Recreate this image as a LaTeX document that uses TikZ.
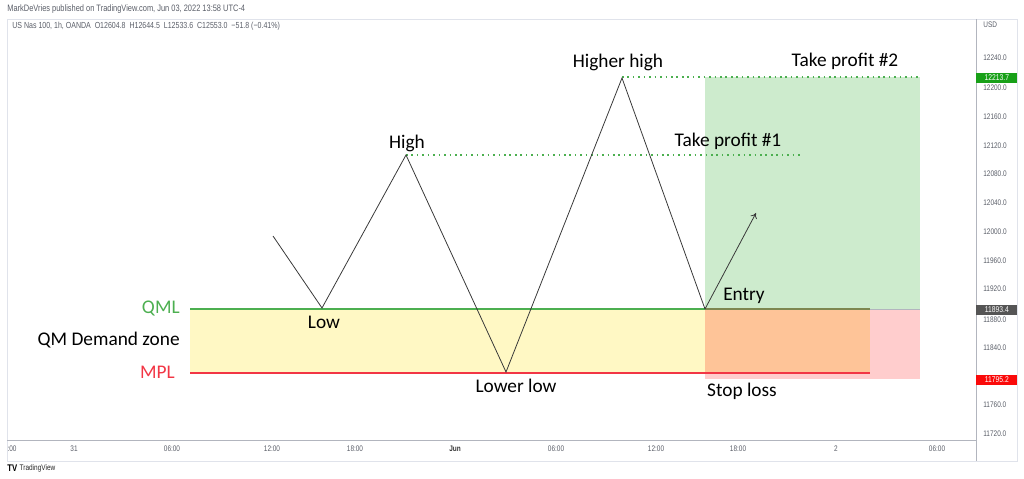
\documentclass[tikz,border=0pt]{standalone}
\usepackage{fontspec}
\setmainfont{Carlito}
\newfontfamily\tvfont[FakeStretch=0.8]{Liberation Sans}
\usetikzlibrary{arrows.meta}

\definecolor{qmlgreen}{RGB}{76,175,80}
\definecolor{mplred}{RGB}{242,54,69}
\definecolor{tpfill}{RGB}{205,235,205}
\definecolor{zonefill}{RGB}{255,248,196}
\definecolor{overlapfill}{RGB}{254,196,152}
\definecolor{slfill}{RGB}{255,205,205}
\definecolor{oliveline}{RGB}{125,135,80}
\definecolor{framegray}{RGB}{224,227,235}
\definecolor{axisgray}{RGB}{178,181,190}
\definecolor{axistext}{RGB}{90,94,104}
\definecolor{taggreen}{RGB}{24,160,24}
\definecolor{taggray}{RGB}{85,85,85}
\definecolor{tagred}{RGB}{250,10,10}

\tikzset{
  zig/.style={draw=black!78,line width=0.45pt},
  tpline/.style={draw=qmlgreen,line width=0.9pt,dash pattern=on 0.9pt off 2.2pt},
  lbl/.style={font=\fontsize{11}{13}\selectfont,inner sep=0pt},
  small/.style={font=\tvfont\fontsize{4.6}{5}\selectfont,text=axistext,inner sep=0pt},
  pricetag/.style={font=\tvfont\fontsize{4.8}{5}\selectfont,text=white,
    minimum width=41*0.02cm,minimum height=10*0.02cm,inner sep=0pt,anchor=west},
}

\begin{document}
\begin{tikzpicture}[x=0.02cm,y=-0.02cm]
  \useasboundingbox (0,0) rectangle (1024,479);
  % Chart frame:
  \draw[framegray,line width=0.4pt] (7,19) rectangle (1017,461);
  \draw[axisgray,line width=0.5pt] (7,440) -- (976,440);
  \draw[axisgray,line width=0.5pt] (976,19) -- (976,461);

  % Zones:
  \fill[slfill] (705,309) rectangle (920,379);
  \fill[tpfill] (705,77) rectangle (920,309);
  \fill[zonefill] (190,309) rectangle (705,373);
  \fill[overlapfill] (705,309) rectangle (870,373);
  \draw[axisgray,line width=0.3pt] (870,309) -- (920,309);
  \draw[qmlgreen,line width=0.9pt] (190,309) -- (705,309);
  \draw[oliveline,line width=0.9pt] (705,309) -- (870,309);
  \draw[mplred,line width=0.9pt] (190,373) -- (870,373);

  % Swing points:
  \coordinate (startpt) at (273,236);
  \coordinate (low) at (322,308);
  \coordinate (high) at (406,155);
  \coordinate (lowerlow) at (506,372);
  \coordinate (higherhigh) at (622,78);
  \coordinate (entry) at (705,309);
  \coordinate (target) at (756,213);
  \coordinate (tpone) at (802,155);
  \coordinate (tptwo) at (920,77);

  \draw[tpline] (high) -- (tpone);
  \draw[tpline] (higherhigh |- tptwo) -- (tptwo);
  \draw[zig] (startpt) -- (low) -- (high) -- (lowerlow) -- (higherhigh) -- (entry);
  \draw[zig,-{To[length=3pt,width=4pt]}] (entry) -- (target);

  % Labels:
  \node[lbl] (higherhighlbl) at (618,62) {Higher high};
  \node[lbl] (highlbl) at (407,143) {High};
  \node[lbl] (lowlbl) at (324,322) {Low};
  \node[lbl] (lowerlowlbl) at (516,386) {Lower low};
  \node[lbl] (tponelbl) at (728,141) {Take profit \#1};
  \node[lbl] (tptwolbl) at (845,61) {Take profit \#2};
  \node[lbl] (entrylbl) at (744,296) {Entry};
  \node[lbl] (stoplbl) at (742,391) {Stop loss};
  \node[lbl,text=qmlgreen,anchor=east] (qmllbl) at (180,309) {QML};
  \node[lbl,anchor=east] (zonelbl) at (180,340) {QM Demand zone};
  \node[lbl,text=mplred,anchor=east] (mpllbl) at (175,372) {MPL};

  % Header:
  \node[small,anchor=west,font=\tvfont\fontsize{5.3}{6}\selectfont] (publisher) at (7,9) {MarkDeVries published on TradingView.com, Jun 03, 2022 13:58 UTC-4};
  \node[small,anchor=west,font=\tvfont\fontsize{5}{6}\selectfont] (symbol) at (12,26) {US Nas 100, 1h, OANDA\ \ O12604.8\ \ H12644.5\ \ L12533.6\ \ C12553.0\ \ −51.8 (−0.41\%)};

  % Price axis:
  \node[small,anchor=west] (usd) at (983,25) {USD};
  \foreach \pr/\py in {12240.0/58,12200.0/88,12160.0/117,12120.0/146,12080.0/174,
      12040.0/203,12000.0/232,11960.0/261,11920.0/289,11880.0/320,11840.0/348,
      11760.0/405,11720.0/434}
    \node[small,anchor=west] at (983,\py) {\pr};
  \node[pricetag,fill=taggreen] (tagtp) at (976,78) {12213.7};
  \node[pricetag,fill=taggray] (tagentry) at (976,310) {11893.4};
  \node[pricetag,fill=tagred] (tagsl) at (976,380) {11795.2};

  % Time axis:
  \foreach \tl/\tx in {:00/12,31/74,06:00/172,12:00/272,18:00/355,06:00/556,
      12:00/656,18:00/738,2/836,06:00/937}
    \node[small] at (\tx,449) {\tl};
  \node[small,font=\tvfont\bfseries\fontsize{4.6}{5}\selectfont,text=black!80] (junlbl) at (455,449) {Jun};

  % Logo:
  \node[small,anchor=west,text=black,font=\tvfont\bfseries\fontsize{5.5}{6}\selectfont] (tvlogo) at (7,468) {TV};
  \node[small,anchor=west,text=black!85,font=\tvfont\fontsize{4.6}{6}\selectfont] (tvname) at ([xshift=1pt]tvlogo.east) {TradingView};
\end{tikzpicture}
\end{document}
